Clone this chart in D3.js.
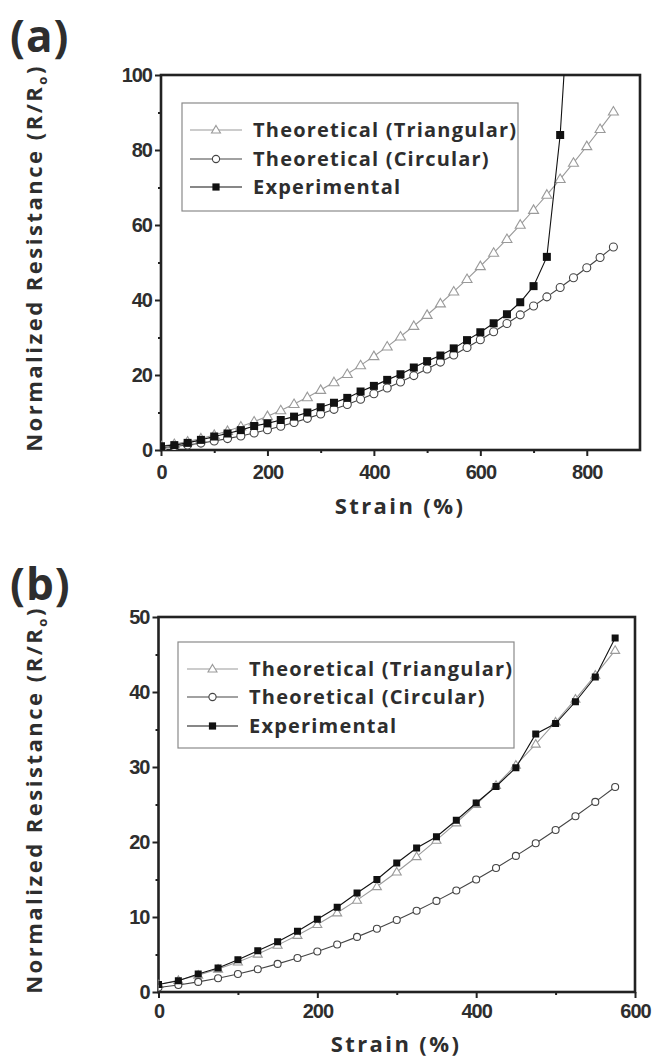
<!DOCTYPE html>
<html><head><meta charset="utf-8">
<script src="https://cdn.jsdelivr.net/npm/d3@7"></script>
<style>
html,body{margin:0;padding:0;background:#fff;}
svg{display:block;}
</style></head>
<body>
<svg id="chart" width="654" height="1059"></svg>
<script>
// ---------- DATA ----------
const strainA = [0,25,50,75,100,125,150,175,200,225,250,275,300,325,350,375,400,425,450,475,500,525,550,575,600,625,650,675,700,725,750,775,800,825,850];
const triA = [1,1.56,2.25,3.06,4,5.06,6.25,7.56,9,10.56,12.25,14.06,16,18.06,20.25,22.56,25,27.56,30.25,33.06,36,39.06,42.25,45.56,49,52.56,56.25,60.06,64,68.06,72.25,76.56,81,85.56,90.25];
const circA = [0.6,0.94,1.35,1.84,2.4,3.04,3.75,4.54,5.4,6.34,7.35,8.44,9.6,10.84,12.15,13.54,15,16.54,18.15,19.84,21.6,23.44,25.35,27.34,29.4,31.54,33.75,36.04,38.4,40.84,43.35,45.94,48.6,51.34,54.15];
const expStrainA = [0,25,50,75,100,125,150,175,200,225,250,275,300,325,350,375,400,425,450,475,500,525,550,575,600,625,650,675,700,725,750,775];
const expA = [1.0,1.3,1.9,2.7,3.6,4.4,5.3,6.4,7.1,8.0,8.9,10.0,11.4,12.6,13.9,15.6,17.1,18.7,20.2,22.0,23.7,25.2,27.1,29.3,31.4,33.8,36.2,39.4,43.7,51.5,84,140];

const strainB = [0,25,50,75,100,125,150,175,200,225,250,275,300,325,350,375,400,425,450,475,500,525,550,575];
const triB = [1,1.56,2.25,3.06,4,5.06,6.25,7.56,9,10.56,12.25,14.06,16,18.06,20.25,22.56,25,27.56,30.25,33.06,36,39.06,42.25,45.56];
const circB = [0.6,0.94,1.35,1.84,2.4,3.04,3.75,4.54,5.4,6.34,7.35,8.44,9.6,10.84,12.15,13.54,15,16.54,18.15,19.84,21.6,23.44,25.35,27.34];
const expB = [1.0,1.5,2.4,3.2,4.3,5.5,6.7,8.1,9.7,11.3,13.2,15.0,17.2,19.2,20.7,22.9,25.2,27.4,29.9,34.4,35.8,38.7,42.0,47.2];

const xTicksA = [0,200,400,600,800];
const xMinorA = [100,300,500,700];
const yTicksA = [0,20,40,60,80,100];
const yMinorA = [10,30,50,70,90];
const xTicksB = [0,200,400,600];
const xMinorB = [100,300,500];
const yTicksB = [0,10,20,30,40,50];
const yMinorB = [5,15,25,35,45];

const legendLabels = ["Theoretical (Triangular)","Theoretical (Circular)","Experimental"];
const panelLabels = ["(a)","(b)"];
const xTitle = "Strain (%)";

// ---------- DRAW ----------
const svg = d3.select("#chart");
const AX = "#222";
const TXT = "#2e2e2e";
const TRI_C = "#9a9a9a", CIRC_C = "#444", EXP_C = "#111";

function triPath(s){
  const h = s*0.85;
  return `M0,${-h*0.6}L${s/2},${h*0.4}L${-s/2},${h*0.4}Z`;
}

function panel(cfg){
  const x = d3.scaleLinear().domain(cfg.xDomain).range(cfg.xRange);
  const y = d3.scaleLinear().domain(cfg.yDomain).range(cfg.yRange);
  const g = svg.append("g");
  const clipId = "clip" + cfg.id;
  svg.append("clipPath").attr("id", clipId).append("rect")
    .attr("x", cfg.xRange[0]).attr("y", cfg.yRange[1])
    .attr("width", cfg.xRange[1]-cfg.xRange[0]).attr("height", cfg.yRange[0]-cfg.yRange[1]);

  const fontT = "bold 20px 'Liberation Sans', Arial, sans-serif";
  const xAx = g.append("g").attr("transform", `translate(0,${cfg.yRange[0]})`)
    .call(d3.axisBottom(x).tickValues(cfg.xTicks).tickSize(6).tickSizeOuter(0).tickPadding(cfg.xPad));
  const xAxm = g.append("g").attr("transform", `translate(0,${cfg.yRange[0]})`)
    .call(d3.axisBottom(x).tickValues(cfg.xMinor).tickSize(3).tickSizeOuter(0).tickFormat(""));
  const yAx = g.append("g").attr("transform", `translate(${cfg.xRange[0]},0)`)
    .call(d3.axisLeft(y).tickValues(cfg.yTicks).tickSize(6).tickSizeOuter(0).tickPadding(3));
  const yAxm = g.append("g").attr("transform", `translate(${cfg.xRange[0]},0)`)
    .call(d3.axisLeft(y).tickValues(cfg.yMinor).tickSize(3).tickSizeOuter(0).tickFormat(""));
  [xAx,xAxm,yAx,yAxm].forEach(a=>{
    a.select(".domain").remove();
    a.selectAll("line").attr("stroke", AX).attr("stroke-width", 2);
    a.selectAll("text").attr("fill", TXT).style("font", fontT).style("letter-spacing","-1px");
  });
  g.append("rect").attr("x", cfg.xRange[0]).attr("y", cfg.yRange[1])
    .attr("width", cfg.xRange[1]-cfg.xRange[0]).attr("height", cfg.yRange[0]-cfg.yRange[1])
    .attr("fill","none").attr("stroke", AX).attr("stroke-width", 2.6);

  g.append("text").attr("x", cfg.xTitlePos[0]).attr("y", cfg.xTitlePos[1])
    .attr("text-anchor","middle").attr("fill", TXT)
    .style("font","bold 22px 'Open Sans', sans-serif").style("letter-spacing","2.4px")
    .text(xTitle);
  const yt = g.append("text")
    .attr("transform", `translate(${cfg.yTitlePos[0]},${cfg.yTitlePos[1]}) rotate(-90)`)
    .attr("text-anchor","middle").attr("fill", TXT)
    .style("font","bold 22px 'Open Sans', sans-serif").style("letter-spacing","2.5px");
  yt.append("tspan").text("Normalized Resistance (R/R");
  yt.append("tspan").attr("dy", 5).style("font-size","13px").text("o");
  yt.append("tspan").attr("dy", -5).text(")");

  g.append("text").attr("x", cfg.labelPos[0]).attr("y", cfg.labelPos[1])
    .attr("fill", TXT).style("font","bold 44px 'Open Sans', sans-serif").style("letter-spacing","1px")
    .text(cfg.label);

  const L = cfg.legend;
  g.append("rect").attr("x", L.box[0]).attr("y", L.box[1]).attr("width", L.box[2]).attr("height", L.box[3])
    .attr("fill","#fff").attr("stroke","#8a8a8a").attr("stroke-width",1.2);
  const colors = [TRI_C, CIRC_C, EXP_C];
  legendLabels.forEach((lab,i)=>{
    const ry = L.rows[i];
    const cy = ry - 7;
    g.append("line").attr("x1", L.sym[0]).attr("x2", L.sym[1]).attr("y1", cy).attr("y2", cy)
      .attr("stroke", colors[i]).attr("stroke-width", 1.2);
    const mx = (L.sym[0]+L.sym[1])/2;
    if(i===0) g.append("path").attr("d", triPath(9)).attr("transform",`translate(${mx},${cy})`)
      .attr("fill","#fff").attr("stroke",TRI_C).attr("stroke-width",1.1);
    if(i===1) g.append("circle").attr("cx",mx).attr("cy",cy).attr("r",3.6)
      .attr("fill","#fff").attr("stroke",CIRC_C).attr("stroke-width",1.1);
    if(i===2) g.append("rect").attr("x",mx-3.6).attr("y",cy-3.6).attr("width",7.2).attr("height",7.2)
      .attr("fill",EXP_C);
    g.append("text").attr("x", L.textX).attr("y", ry).attr("fill", TXT)
      .style("font","bold 20px 'Open Sans', sans-serif").style("letter-spacing","1.2px").text(lab);
  });

  const plot = g.append("g").attr("clip-path", `url(#${clipId})`);
  const line = d3.line().x(d=>x(d[0])).y(d=>y(d[1]));
  const series = [
    {xs: cfg.sx, ys: cfg.tri, c: TRI_C, type:"tri"},
    {xs: cfg.sx, ys: cfg.circ, c: CIRC_C, type:"circ"},
    {xs: cfg.ex, ys: cfg.exp, c: EXP_C, type:"sq"}
  ];
  series.forEach(s=>{
    const pts = s.xs.map((v,i)=>[v, s.ys[i]]);
    plot.append("path").attr("d", line(pts)).attr("fill","none").attr("stroke", s.c).attr("stroke-width", 1.1);
    const m = plot.append("g");
    pts.forEach(p=>{
      const px = x(p[0]), py = y(p[1]);
      if(s.type==="tri") m.append("path").attr("d", triPath(cfg.ms+2)).attr("transform",`translate(${px},${py})`)
        .attr("fill","#fff").attr("stroke", s.c).attr("stroke-width",1.1);
      else if(s.type==="circ") m.append("circle").attr("cx",px).attr("cy",py).attr("r",cfg.ms/2)
        .attr("fill","#fff").attr("stroke", s.c).attr("stroke-width",1.1);
      else m.append("rect").attr("x",px-cfg.ms/2).attr("y",py-cfg.ms/2).attr("width",cfg.ms).attr("height",cfg.ms)
        .attr("fill", s.c);
    });
  });
}

panel({
  id:"A", label: panelLabels[0], labelPos:[10,52],
  xDomain:[0,900], xRange:[161,640], yDomain:[0,100], yRange:[450,75],
  xTicks:xTicksA, xMinor:xMinorA, yTicks:yTicksA, yMinor:yMinorA, xPad:9,
  xTitlePos:[400,514], yTitlePos:[42,258],
  legend:{box:[182,103,336,108], rows:[137,166,194], sym:[190,242], textX:253},
  sx:strainA, tri:triA, circ:circA, ex:expStrainA, exp:expA, ms:8
});
panel({
  id:"B", label: panelLabels[1], labelPos:[10,600],
  xDomain:[0,600], xRange:[158.5,635], yDomain:[0,50], yRange:[992,617],
  xTicks:xTicksB, xMinor:xMinorB, yTicks:yTicksB, yMinor:yMinorB, xPad:6,
  xTitlePos:[396,1052], yTitlePos:[42,800],
  legend:{box:[178,642,336,106], rows:[676,704,733], sym:[187,238], textX:249},
  sx:strainB, tri:triB, circ:circB, ex:strainB, exp:expB, ms:7
});
</script>
</body></html>
